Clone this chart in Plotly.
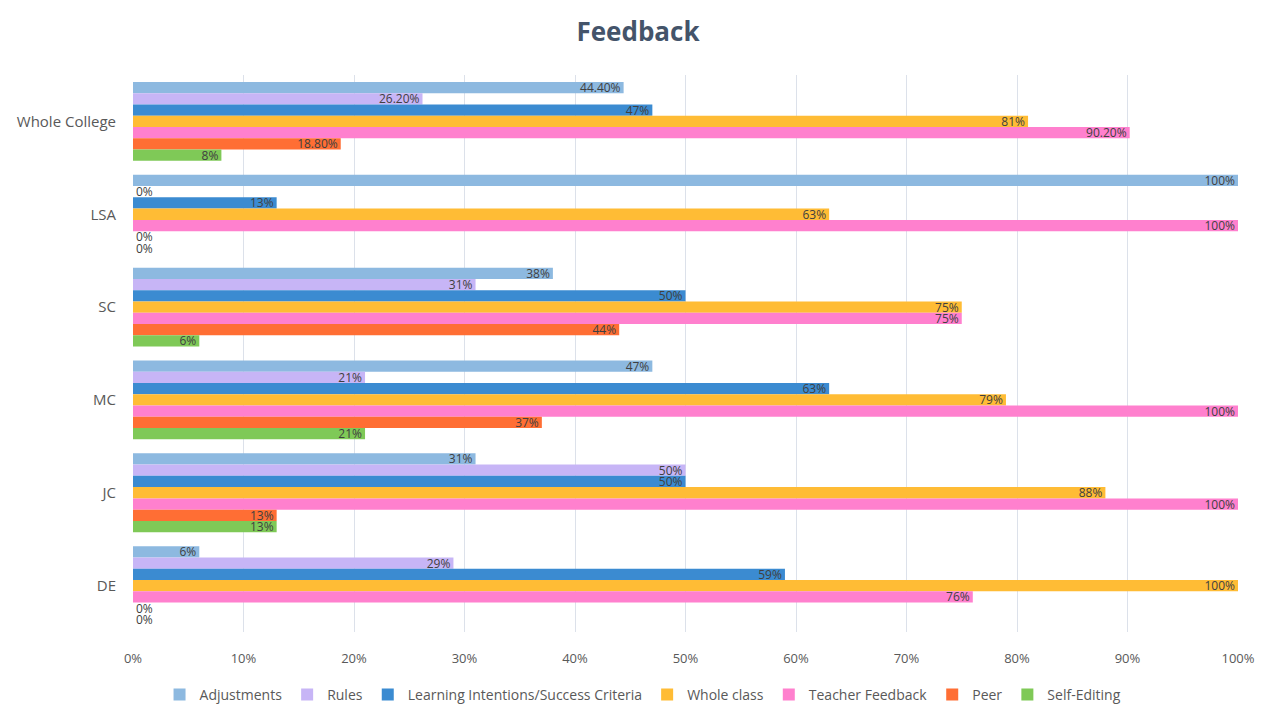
import plotly.graph_objects as go

# --- data ---
categories = ["Whole College", "LSA", "SC", "MC", "JC", "DE"]
series_names = ["Adjustments", "Rules", "Learning Intentions/Success Criteria",
                "Whole class", "Teacher Feedback", "Peer", "Self-Editing"]

adjustments = [44.4, 100, 38, 47, 31, 6]
rules = [26.2, 0, 31, 21, 50, 29]
learning_intentions = [47, 13, 50, 63, 50, 59]
whole_class = [81, 63, 75, 79, 88, 100]
teacher_feedback = [90.2, 100, 75, 100, 100, 76]
peer = [18.8, 0, 44, 37, 13, 0]
self_editing = [8, 0, 6, 21, 13, 0]

series_values = [adjustments, rules, learning_intentions, whole_class,
                 teacher_feedback, peer, self_editing]
colors = ["#8DB9E0", "#C7B5F6", "#3B8BD1", "#FFBC35", "#FF80CE", "#FF6E34", "#7FC957"]

FONT = "Open Sans"
# the page body has an 8px margin, so the figure is sized to fit inside the window
W, H = 1260, 698


def fmt(v):
    return f"{int(v)}%" if float(v).is_integer() else f"{v:.2f}%"


fig = go.Figure()
for name, vals, col in zip(series_names, series_values, colors):
    fig.add_trace(go.Bar(
        y=categories, x=[v / 100 for v in vals], name=name, orientation="h",
        marker=dict(color=col, line=dict(width=0)),
        text=[fmt(v) for v in vals],
        textposition=["outside" if v == 0 else "inside" for v in vals],
        insidetextanchor="end", constraintext="none", cliponaxis=False,
        textangle=0,
        textfont=dict(family=FONT, size=12, color="#404040"),
        hoverinfo="x+name",
    ))

fig.update_layout(
    title=dict(text="<b>Feedback</b>", x=0.5, xanchor="center",
               y=1 - 24 / H, yanchor="middle",
               font=dict(family=FONT, size=26, color="#44546A")),
    barmode="group", bargap=0.15, bargroupgap=0,
    plot_bgcolor="white", paper_bgcolor="white",
    font=dict(family=FONT, size=12, color="#595959"),
    margin=dict(l=125, r=30, t=67, b=74, autoexpand=False),
    xaxis=dict(range=[0, 1], tickformat=".0%", dtick=0.1, showgrid=True,
               gridcolor="#DCE1EA", gridwidth=1, zeroline=False,
               tickfont=dict(family=FONT, size=13, color="#595959"),
               ticks="", ticklabelstandoff=17, automargin=False),
    yaxis=dict(autorange="reversed", showgrid=False, ticks="",
               showline=False, automargin=False,
               tickfont=dict(family=FONT, size=15, color="#595959"),
               ticklabelstandoff=16),
    legend=dict(orientation="h", xref="container", x=0.504, xanchor="center",
                yref="container", y=11 / H, yanchor="middle",
                font=dict(family=FONT, size=14, color="#595959"),
                traceorder="normal", itemwidth=30),
    showlegend=True,
    width=W, height=H,
)

fig.write_html("out.html")
